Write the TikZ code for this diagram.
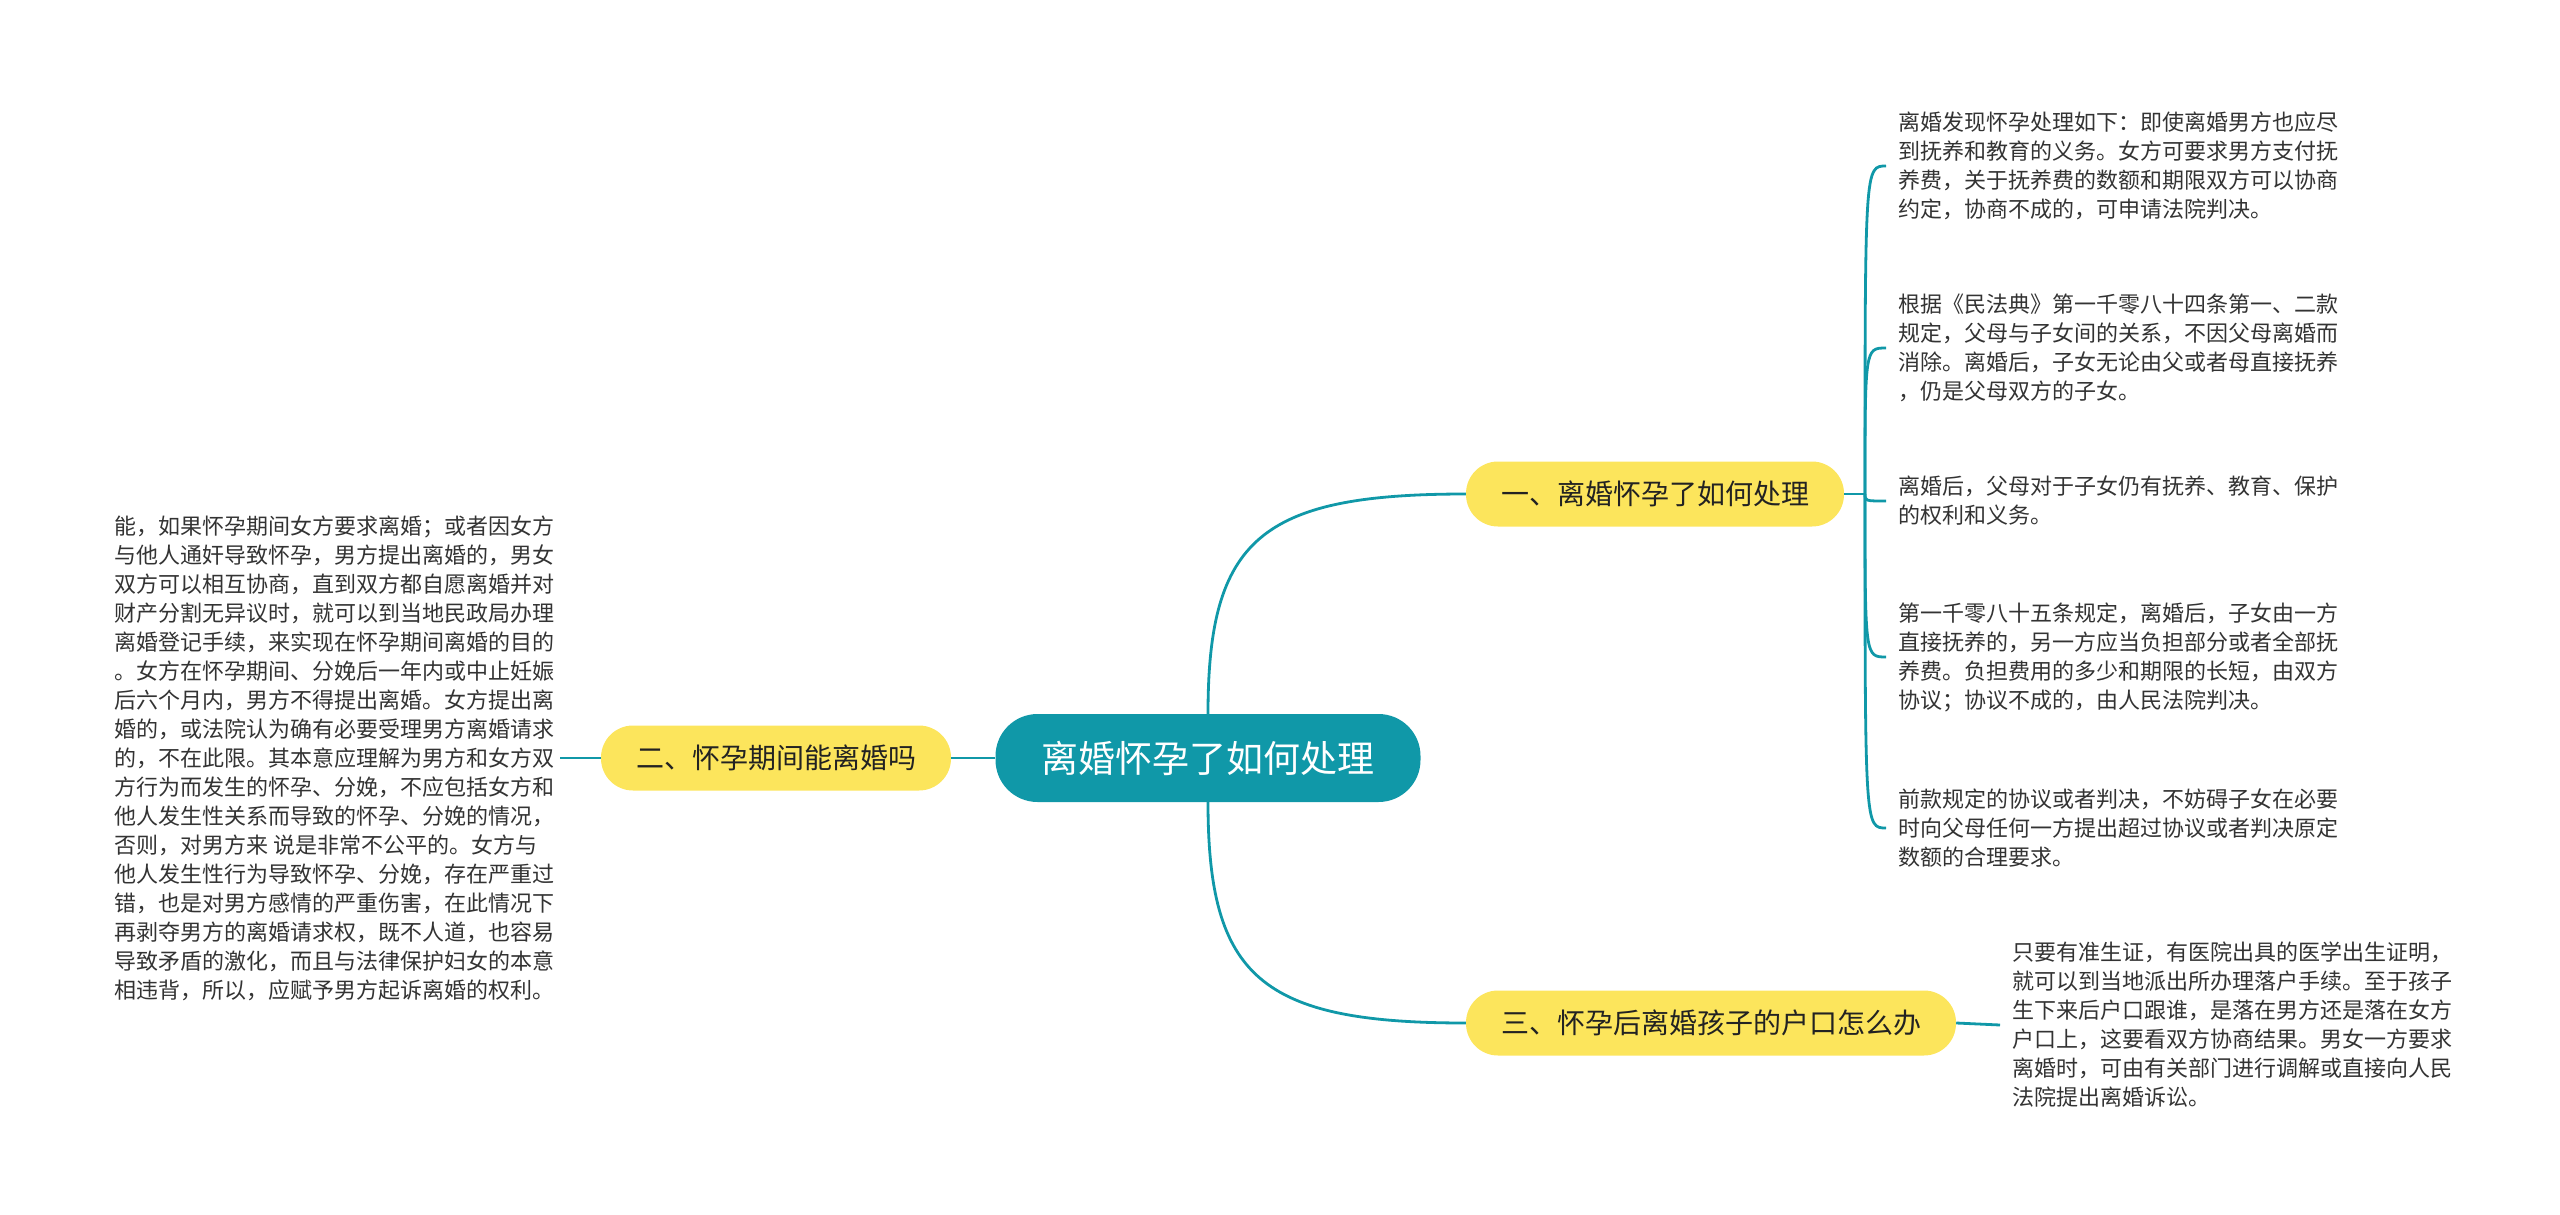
\documentclass[tikz,border=0pt]{standalone}
\usepackage{fontspec}
\setmainfont{Noto Sans CJK SC}
\usepackage{tikz}
\usetikzlibrary{positioning,calc}
\definecolor{Teal}{HTML}{1098A8}
\definecolor{Butter}{HTML}{FCE55C}
\definecolor{Ink}{HTML}{333333}
\definecolor{Dark}{HTML}{222222}
\tikzset{
  root/.style={rounded corners=42pt, fill=Teal, text=white, inner xsep=46pt, minimum height=88pt, font=\fontsize{37}{41}\selectfont},
  topic/.style={rounded corners=32pt, fill=Butter, text=Dark, inner xsep=35pt, minimum height=65pt, font=\fontsize{28}{32}\selectfont},
  note/.style={align=left, text=Ink, inner sep=12pt, font=\fontsize{22}{29}\selectfont},
  link/.style={draw=Teal, line width=2.8pt}
}

\begin{document}
\begin{tikzpicture}[x=1pt, y=-1pt]
\useasboundingbox (0,0) rectangle (2560,1215);
% main topics
\node[root] (root) at (1208,758) {离婚怀孕了如何处理};
\node[topic] (one) at (1655,494) {一、离婚怀孕了如何处理};
\node[topic] (two) at (776,758) {二、怀孕期间能离婚吗};
\node[topic] (three) at (1711,1023) {三、怀孕后离婚孩子的户口怎么办};
% notes of the first topic
\node[note, anchor=west] (rOne) at (1886,166) {离婚发现怀孕处理如下：即使离婚男方也应尽\\到抚养和教育的义务。女方可要求男方支付抚\\养费，关于抚养费的数额和期限双方可以协商\\约定，协商不成的，可申请法院判决。};
\node[note, anchor=west] (rTwo) at (1886,348) {根据《民法典》第一千零八十四条第一、二款\\规定，父母与子女间的关系，不因父母离婚而\\消除。离婚后，子女无论由父或者母直接抚养\\，仍是父母双方的子女。};
\node[note, anchor=west] (rThree) at (1886,501) {离婚后，父母对于子女仍有抚养、教育、保护\\的权利和义务。};
\node[note, anchor=west] (rFour) at (1886,657) {第一千零八十五条规定，离婚后，子女由一方\\直接抚养的，另一方应当负担部分或者全部抚\\养费。负担费用的多少和期限的长短，由双方\\协议；协议不成的，由人民法院判决。};
\node[note, anchor=west] (rFive) at (1886,828) {前款规定的协议或者判决，不妨碍子女在必要\\时向父母任何一方提出超过协议或者判决原定\\数额的合理要求。};
% note of the second topic
\node[note, anchor=east, inner sep=5pt] (twoNote) at (560,758) {能，如果怀孕期间女方要求离婚；或者因女方\\与他人通奸导致怀孕，男方提出离婚的，男女\\双方可以相互协商，直到双方都自愿离婚并对\\财产分割无异议时，就可以到当地民政局办理\\离婚登记手续，来实现在怀孕期间离婚的目的\\。女方在怀孕期间、分娩后一年内或中止妊娠\\后六个月内，男方不得提出离婚。女方提出离\\婚的，或法院认为确有必要受理男方离婚请求\\的，不在此限。其本意应理解为男方和女方双\\方行为而发生的怀孕、分娩，不应包括女方和\\他人发生性关系而导致的怀孕、分娩的情况，\\否则，对男方来 说是非常不公平的。女方与\\他人发生性行为导致怀孕、分娩，存在严重过\\错，也是对男方感情的严重伤害，在此情况下\\再剥夺男方的离婚请求权，既不人道，也容易\\导致矛盾的激化，而且与法律保护妇女的本意\\相违背，所以，应赋予男方起诉离婚的权利。};
% note of the third topic
\node[note, anchor=west] (threeNote) at (2000,1025) {只要有准生证，有医院出具的医学出生证明，\\就可以到当地派出所办理落户手续。至于孩子\\生下来后户口跟谁，是落在男方还是落在女方\\户口上，这要看双方协商结果。男女一方要求\\离婚时，可由有关部门进行调解或直接向人民\\法院提出离婚诉讼。};
% links
\draw[link] (root.north) .. controls +(0,-175) and +(-205,0) .. (one.west);
\draw[link] (root.south) .. controls +(0,175) and +(-205,0) .. (three.west);
\draw[link] (root.west) -- (two.east);
\draw[link] (two.west) -- (twoNote.east);
\draw[link] (three.east) -- (threeNote.west);
\coordinate (fork) at (1865,494);
\draw[link] (one.east) -- (fork);
\draw[link] (fork) .. controls (fork |- rOne.west) and (fork |- rOne.west) .. (rOne.west);
\draw[link] (fork) .. controls (fork |- rTwo.west) and (fork |- rTwo.west) .. (rTwo.west);
\draw[link] (fork) .. controls (fork |- rThree.west) and (fork |- rThree.west) .. (rThree.west);
\draw[link] (fork) .. controls (fork |- rFour.west) and (fork |- rFour.west) .. (rFour.west);
\draw[link] (fork) .. controls (fork |- rFive.west) and (fork |- rFive.west) .. (rFive.west);
\end{tikzpicture}
\end{document}
